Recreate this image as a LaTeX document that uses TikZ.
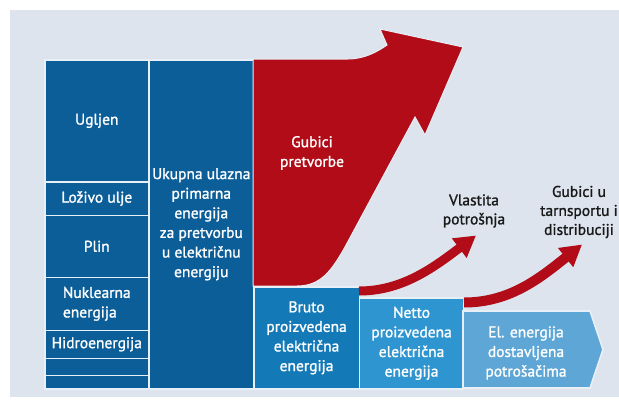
\documentclass[tikz,border=0pt]{standalone}
\usepackage{fontspec}
\setmainfont{PT Sans}
\newfontfamily\medfont{PT Sans}[FakeBold=1.3]
\usetikzlibrary{arrows.meta}
\definecolor{bg}{HTML}{DDE4ED}
\definecolor{dblue}{HTML}{0C5E99}
\definecolor{mblue}{HTML}{1479B7}
\definecolor{lblue}{HTML}{2E95D0}
\definecolor{pblue}{HTML}{5EA6D6}
\definecolor{lossred}{HTML}{B10C17}
\definecolor{edge}{HTML}{E9EFF6}
\begin{document}
\begin{tikzpicture}[x=1pt,y=-1pt,
  box/.style={draw=edge, line width=1.6pt, text=white, align=center, inner sep=0pt,
    anchor=north west, font=\medfont\fontsize{15.5}{19.6}\selectfont},
  boxtext/.style={text=white, align=center, inner sep=0pt, font=\medfont\fontsize{15.5}{19.6}\selectfont},
  label/.style={text=black!90, align=center, inner sep=0pt, font=\medfont\fontsize{15.5}{19}\selectfont},
  lossarrow/.style={draw=lossred, line width=9pt, -{Triangle[length=21pt,width=23pt]}}
]
\path[use as bounding box] (0,0) rectangle (619,408);
\clip (0,0) rectangle (619,408);
\fill[white] (0,0) rectangle (619,408);
\fill[bg] (10,10) rectangle (619,397);

% left column
\node[box, fill=dblue, minimum width=104pt, minimum height=122pt] (ugljen) at (44,59) {Ugljen};
\node[box, fill=dblue, minimum width=104pt, minimum height=33.5pt] (lozivo) at (44,181) {Loživo ulje};
\node[box, fill=dblue, minimum width=104pt, minimum height=62pt] (plin) at (44,214.5) {Plin};
\node[box, fill=dblue, minimum width=104pt, minimum height=53pt, align=left] (nukl) at (44,276.5) {Nuklearna\\energija};
\node[box, fill=dblue, minimum width=104pt, minimum height=28pt] (hidro) at (44,329.5) {Hidroenergija};
\node[box, fill=dblue, minimum width=104pt, minimum height=17pt] (ost1) at (44,357.5) {};
\node[box, fill=dblue, minimum width=104pt, minimum height=13.5pt] (ost2) at (44,374.5) {};

% second column
\node[box, fill=dblue, minimum width=105pt, minimum height=329pt] (ukupna) at (148,59)
  {Ukupna ulazna\\primarna\\energija\\za pretvorbu\\u električnu\\energiju};

% conversion losses
\path[draw=edge, line width=1pt, fill=lossred]
  (253,59) -- (348,59) .. controls (364,59) and (377,52) .. (387,45)
  -- (380,29) -- (463,47) -- (425,135) -- (415,117)
  -- (345,247) .. controls (331,272) and (320,286) .. (297,286)
  -- (253,286) -- cycle;
\node[boxtext] (gubici) at (312,153) {Gubici\\pretvorbe};

% bottom boxes
\node[box, fill=mblue, minimum width=105.5pt, minimum height=102pt] (bruto) at (253,286)
  {Bruto\\proizvedena\\električna\\energija};
\node[box, fill=lblue, minimum width=104.5pt, minimum height=91pt] (netto) at (358.5,297)
  {Netto\\proizvedena\\električna\\energija};
\path[draw=edge, line width=1.6pt, fill=pblue]
  (463,311) -- (590,311) -- (603,349.5) -- (590,388) -- (463,388) -- cycle;
\node[boxtext] (dostav) at (526,353) {El. energija\\dostavljena\\potrošačima};

% labels
\node[label] (vlastita) at (474,211) {Vlastita\\potrošnja};
\node[label] (prijenos) at (579,212) {Gubici u\\tarnsportu i\\distribuciji};

% small loss arrows
\coordinate (a1s) at (359,291);
\coordinate (a1e) at (476,235.5);
\coordinate (a2s) at (464,302.5);
\coordinate (a2e) at (582,244.5);
\draw[lossarrow] (a1s) .. controls (402,291) and (433,268) .. (a1e);
\draw[lossarrow, line width=10pt] (a2s) .. controls (510,302.5) and (540,278) .. (a2e);
\end{tikzpicture}
\end{document}
